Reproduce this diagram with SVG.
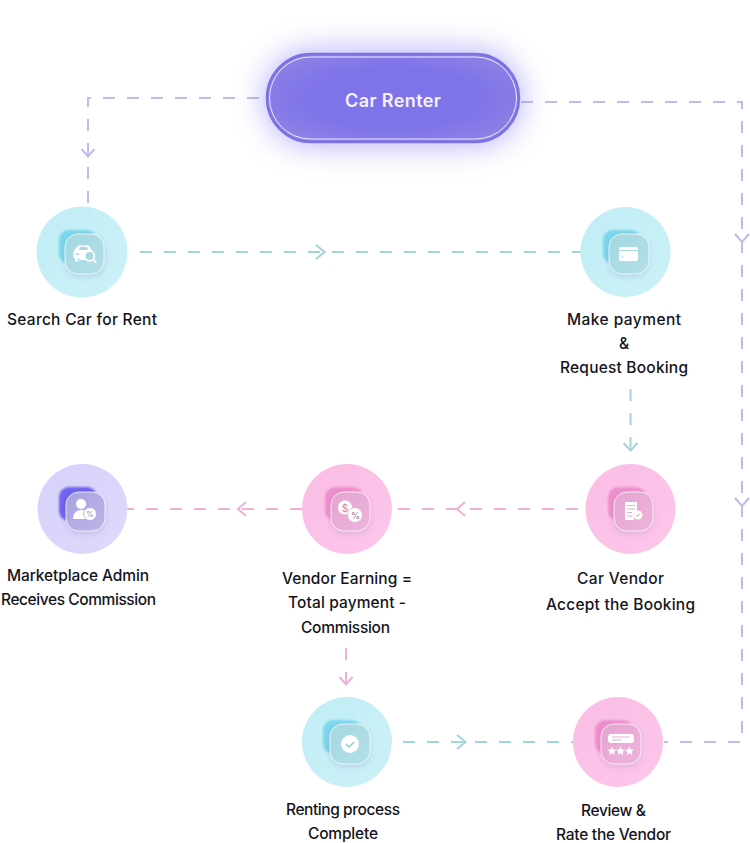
<svg xmlns="http://www.w3.org/2000/svg" width="750" height="843" viewBox="0 0 750 843">
  <style>
    text { font-family: "Inter", "Liberation Sans", sans-serif; font-weight: 500; font-size: 15.5px; fill: #14141c; text-anchor: middle; }
    .title { font-size: 18px; font-weight: 600; fill: #f4f2ff; }
    .wire { fill: none; stroke-width: 2; stroke-dasharray: 12 12; }
    .head { fill: none; stroke-width: 2; }
    .purple { stroke: #c4b9ee; }
    .teal { stroke: #a0d5dc; }
    .pink { stroke: #ecb0da; }
    .glass { stroke: #ffffff; stroke-opacity: .75; stroke-width: 1; }
    .glyph { fill: #ffffff; }
    .cyan-disc { fill: url(#discCyan); }
    .pink-disc { fill: url(#discPink); }
    .lilac-disc { fill: url(#discLilac); }
    .back { filter: url(#soft); }
    .cyan-back { fill: #7cd6ec; }
    .pink-back { fill: #ee8fcd; }
    .lilac-back { fill: #6f64ee; }
    .cyan-front { fill: url(#glassCyan); }
    .pink-front { fill: url(#glassPink); }
    .lilac-front { fill: url(#glassLilac); }
    .shade { fill: #5a5a8c; opacity: .16; filter: url(#shadeBlur); }
    .icon-mark { font-size: 10px; font-weight: 500; }
  </style>
  <defs>
    <filter id="halo" x="-30%" y="-70%" width="160%" height="240%"><feGaussianBlur stdDeviation="15"/></filter>
    <filter id="soft" x="-30%" y="-30%" width="160%" height="160%"><feGaussianBlur stdDeviation=".9"/></filter>
    <filter id="shadeBlur" x="-40%" y="-40%" width="180%" height="180%"><feGaussianBlur stdDeviation="3"/></filter>
    <radialGradient id="pillShade" cx=".5" cy=".5" r=".62"><stop offset=".55" stop-color="#7f73e9"/><stop offset="1" stop-color="#8d84e4"/></radialGradient>
    <linearGradient id="discCyan" x1="0" y1="0" x2="1" y2="1"><stop offset="0" stop-color="#c0edf5"/><stop offset="1" stop-color="#cdf1f8"/></linearGradient>
    <linearGradient id="discPink" x1="0" y1="0" x2="1" y2="1"><stop offset="0" stop-color="#fbbde5"/><stop offset="1" stop-color="#fdc6ea"/></linearGradient>
    <linearGradient id="discLilac" x1="0" y1="0" x2="1" y2="1"><stop offset="0" stop-color="#d6d1f9"/><stop offset="1" stop-color="#dedafb"/></linearGradient>
    <linearGradient id="glassCyan" x1="0" y1="0" x2="1" y2="1"><stop offset="0" stop-color="#a3d8e2"/><stop offset="1" stop-color="#b4dfe6"/></linearGradient>
    <linearGradient id="glassPink" x1="0" y1="0" x2="1" y2="1"><stop offset="0" stop-color="#e5a4d2"/><stop offset="1" stop-color="#eeb4da"/></linearGradient>
    <linearGradient id="glassLilac" x1="0" y1="0" x2="1" y2="1"><stop offset="0" stop-color="#a9a1e2"/><stop offset="1" stop-color="#bcb6e8"/></linearGradient>
    <polygon id="star" points="0,-4.500 1.300,-1.500 4.500,-1.300 2,.8 2.800,4 0,2.300 -2.800,4 -2,.8 -4.500,-1.300 -1.300,-1.500" fill="#ffffff"/>
  </defs>

  <g id="connectors">
    <path class="wire purple" d="M259 98H88V205"/>
    <path class="head purple" d="M81.500 149l6.500 7.500 6.500-7.500"/>
    <path class="wire purple" d="M521 102H742V733"/>
    <path class="wire purple" d="M740 742H664"/>
    <path class="head purple" d="M735 234l7 8 7-8M735 498l7 8 7-8"/>
    <path class="wire teal" d="M140 252H581"/>
    <path class="head teal" d="M316 245l8.500 7-8.500 7"/>
    <path class="wire teal" d="M630.500 389V426"/>
    <path class="wire teal" d="M630.500 437V450"/>
    <path class="head teal" d="M623.500 443l7 7.500 7-7.500"/>
    <path class="wire pink" d="M578 509H398"/>
    <path class="head pink" d="M465 502l-8 7 8 7"/>
    <path class="wire pink" d="M302 509H127"/>
    <path class="head pink" d="M246 502l-8 7 8 7"/>
    <path class="wire pink" d="M346 648V685"/>
    <path class="head pink" d="M339.500 677l6.500 7.500 6.500-7.500"/>
    <path class="wire teal" d="M403 742H573"/>
    <path class="head teal" d="M457 735l8.500 7-8.500 7"/>
  </g>

  <g id="car-renter">
    <rect x="264" y="50" width="258" height="96" rx="48" fill="#8277f0" opacity=".55" filter="url(#halo)"/>
    <rect x="267" y="54" width="252" height="88" rx="44" fill="url(#pillShade)" stroke="#7d71e6" stroke-width="2.500"/>
    <rect x="269.500" y="57" width="247" height="82" rx="41" fill="none" stroke="#ffffff" stroke-opacity=".85" stroke-width="1"/>
    <text class="title" x="393" y="107" textLength="96">Car Renter</text>
  </g>

  <g id="search-car">
    <circle class="cyan-disc" cx="82" cy="252" r="45.500"/>
    <rect class="cyan-back back" x="59" y="230" width="38" height="34" rx="10"/>
    <rect class="shade" x="66" y="237" width="39" height="40" rx="13"/>
    <rect class="cyan-front glass" x="65" y="234" width="39" height="40" rx="13"/>
    <path class="glyph" fill-rule="evenodd" d="M77 247q.6-1.500 2-1.500h9q1.400 0 2 1.500l1.500 3q1 .5 1 2v6h-19v-6q0-1.500 1-2zM78.500 250h10l-1.500-3h-7zM76 253v2h3v-1.500zM88 253.500v1.500h3v-2z"/>
    <path class="glyph" d="M75 258h3v3.500h-3zM79 258h6v2h-6z"/>
    <circle cx="89.500" cy="256" r="4.800" fill="#a9d9e1" stroke="#ffffff" stroke-width="1.800"/>
    <path d="M93 259.500l3 3" stroke="#ffffff" stroke-width="1.800"/>
    <text x="82" y="325" textLength="150">Search Car for Rent</text>
  </g>

  <g id="make-payment">
    <circle class="cyan-disc" cx="625.500" cy="252" r="45"/>
    <rect class="cyan-back back" x="603" y="230" width="38" height="34" rx="10"/>
    <rect class="shade" x="609" y="237" width="40" height="40" rx="13"/>
    <rect class="cyan-front glass" x="609" y="234" width="40" height="40" rx="13"/>
    <rect class="glyph" x="619" y="247" width="19" height="14" rx="2"/>
    <path d="M619 250.500h19" stroke="#a9d9e1" stroke-width="1"/>
    <circle cx="622.500" cy="257" r=".8" fill="#8cc5cf"/>
    <text x="624" y="325" textLength="114">Make payment</text>
    <text x="624" y="349">&amp;</text>
    <text x="624" y="373" textLength="128">Request Booking</text>
  </g>

  <g id="car-vendor">
    <circle class="pink-disc" cx="630.500" cy="509" r="45"/>
    <rect class="pink-back back" x="608" y="487" width="38" height="34" rx="10"/>
    <rect class="shade" x="614" y="495" width="39" height="39" rx="13"/>
    <rect class="pink-front glass" x="614" y="492" width="39" height="39" rx="13"/>
    <path class="glyph" d="M625 502h12v9a5 5 0 0 0-3 7v2h-9z"/>
    <path d="M627 505.500h8M627 509h8M627 512.500h5M627 516h5" stroke="#e9abd5" stroke-width="1"/>
    <circle class="glyph" cx="638" cy="515" r="4.500"/>
    <path d="M636 515l1.500 1.500 2.500-3" fill="none" stroke="#c99ac0" stroke-width="1"/>
    <text x="620.500" y="584" textLength="87">Car Vendor</text>
    <text x="620.500" y="610" textLength="149">Accept the Booking</text>
  </g>

  <g id="vendor-earning">
    <circle class="pink-disc" cx="347" cy="509" r="45"/>
    <rect class="pink-back back" x="325" y="487" width="38" height="34" rx="10"/>
    <rect class="shade" x="331" y="495" width="39" height="39" rx="13"/>
    <rect class="pink-front glass" x="331" y="492" width="39" height="39" rx="13"/>
    <circle class="glyph" cx="345" cy="507.500" r="7"/>
    <circle class="glyph" cx="355" cy="515" r="7.500" stroke="#e9abd5" stroke-width=".8"/>
    <text class="icon-mark" x="345" y="511.500" style="fill:#cf8dbb">$</text>
    <text class="icon-mark" x="355.500" y="518.500" style="font-size:9px;fill:#b47aa5">%</text>
    <text x="347" y="584" textLength="130">Vendor Earning =</text>
    <text x="347" y="608" textLength="118">Total payment -</text>
    <text x="345.500" y="633" textLength="89">Commission</text>
  </g>

  <g id="marketplace-admin">
    <circle class="lilac-disc" cx="82.500" cy="509" r="45"/>
    <rect class="lilac-back back" x="59" y="487" width="38" height="34" rx="10"/>
    <rect class="shade" x="66" y="495" width="39" height="39" rx="13"/>
    <rect class="lilac-front glass" x="66" y="492" width="39" height="39" rx="13"/>
    <circle class="glyph" cx="81" cy="504" r="5"/>
    <path class="glyph" d="M73 519c0-6 4-9 8-9s6 1 7 3v6z"/>
    <circle class="glyph" cx="90" cy="514" r="6.500" stroke="#b1a9e2" stroke-width=".8"/>
    <text class="icon-mark" x="90" y="517" style="font-size:7.500px;fill:#9c93cf">%</text>
    <text x="78" y="581" textLength="142">Marketplace Admin</text>
    <text x="78.500" y="605" textLength="155">Receives Commission</text>
  </g>

  <g id="renting-complete">
    <circle class="cyan-disc" cx="347" cy="742" r="45"/>
    <rect class="cyan-back back" x="323" y="720" width="38" height="34" rx="10"/>
    <rect class="shade" x="330" y="727" width="40" height="40" rx="13"/>
    <rect class="cyan-front glass" x="330" y="724" width="40" height="40" rx="13"/>
    <circle class="glyph" cx="350" cy="744" r="9"/>
    <path d="M346 744l3 3 5-5" fill="none" stroke="#8fc7d2" stroke-width="1.400"/>
    <text x="343" y="815" textLength="114">Renting process</text>
    <text x="343" y="839" textLength="70">Complete</text>
  </g>

  <g id="review-vendor">
    <circle class="pink-disc" cx="618" cy="742" r="45"/>
    <rect class="pink-back back" x="595" y="720" width="38" height="34" rx="10"/>
    <rect class="shade" x="601" y="727" width="40" height="40" rx="13"/>
    <rect class="pink-front glass" x="601" y="724" width="40" height="40" rx="13"/>
    <rect class="glyph" x="608" y="734" width="26" height="9" rx="3"/>
    <path d="M612 737h18M612 740h9" stroke="#e9abd5" stroke-width="1"/>
    <use href="#star" x="612" y="751"/>
    <use href="#star" x="620.500" y="751"/>
    <use href="#star" x="629.500" y="751"/>
    <text x="613.500" y="816" textLength="65">Review &amp;</text>
    <text x="613.500" y="840" textLength="115">Rate the Vendor</text>
  </g>
</svg>
